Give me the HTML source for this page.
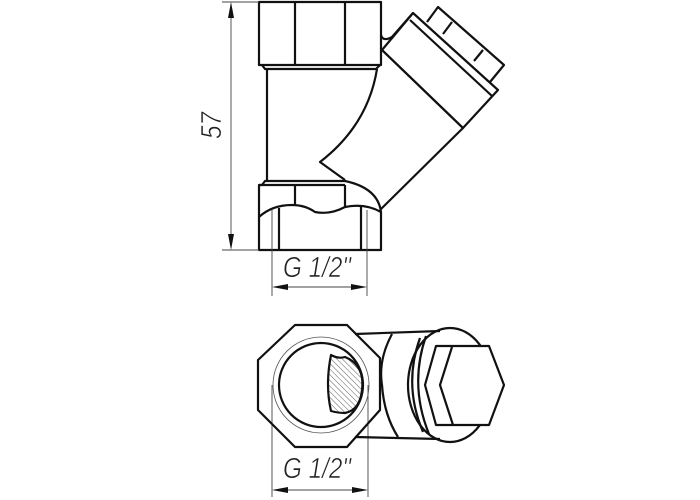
<!DOCTYPE html>
<html><head><style>html,body{margin:0;padding:0;background:#fff;}svg{display:block;}</style></head>
<body>
<svg width="700" height="500" viewBox="0 0 700 500" xmlns="http://www.w3.org/2000/svg">
<defs>
<pattern id="h" width="4" height="4" patternUnits="userSpaceOnUse" patternTransform="rotate(-45)">
<line x1="0" y1="0" x2="0" y2="4" stroke="#333" stroke-width="0.8"/>
</pattern>
</defs>
<g fill="none" stroke="#111" stroke-width="2.2" stroke-linejoin="round">
<rect x="259" y="2" width="122" height="63"/>
<line x1="295" y1="2" x2="295" y2="65"/>
<line x1="345" y1="2" x2="345" y2="65"/>
<path d="M262 65 L265 69 L376 69 L380 65"/>
<line x1="267" y1="69" x2="267" y2="180"/>
<path d="M377 69 Q368 125 320 162 L345 180"/>
<path d="M262 185 L265 181 L345 181 Q378 188 381 212 L381 250 L259 250 L259 185 Z"/>
<line x1="259" y1="185" x2="345" y2="185"/>
<line x1="295" y1="185" x2="295" y2="205"/>
<line x1="345" y1="185" x2="345" y2="207"/>
<path d="M259 217 Q272 205 292 205 Q305 205 315 212 Q330 215 345 207 Q365 203 381 212"/>
<line x1="279" y1="208" x2="279" y2="250"/>
<line x1="361" y1="206" x2="361" y2="250"/>
<path d="M381 35 Q383 42 392 37 L413 13"/>
<line x1="382" y1="50" x2="463" y2="128"/>
<line x1="463" y1="128" x2="380" y2="210"/>
<path d="M413 13 L498 90 L463 128 L382 50 Z"/>
<line x1="410" y1="20" x2="492" y2="96"/>
<path d="M427 22 L438 7 L504 65 L490 82"/>
<line x1="443" y1="34" x2="452" y2="22"/>
<line x1="474" y1="61" x2="483" y2="50"/>
</g>
<g stroke="#444" stroke-width="0.9" fill="none">
<line x1="222" y1="2" x2="259" y2="2"/>
<line x1="222" y1="250" x2="259" y2="250"/>
<line x1="231" y1="4" x2="231" y2="248"/>
<line x1="272" y1="210" x2="272" y2="296"/>
<line x1="367" y1="210" x2="367" y2="296"/>
<line x1="274" y1="287" x2="365" y2="287"/>
<line x1="272" y1="385" x2="272" y2="497"/>
<line x1="368" y1="385" x2="368" y2="497"/>
<line x1="274" y1="490" x2="366" y2="490"/>
</g>
<g fill="#111">
<path d="M231 2 L228 18 L234 18 Z"/>
<path d="M231 250 L228 234 L234 234 Z"/>
<path d="M272 287 L288 284 L288 290 Z"/>
<path d="M367 287 L351 284 L351 290 Z"/>
<path d="M272 490 L288 487 L288 493 Z"/>
<path d="M368 490 L352 487 L352 493 Z"/>
</g>
<g font-family="Liberation Sans, sans-serif" font-size="29" font-style="italic" fill="#222" stroke="#fff" stroke-width="0.6">
<text transform="translate(221,139) rotate(-90)" x="0" y="0" textLength="27" lengthAdjust="spacingAndGlyphs">57</text>
<text x="283" y="277" textLength="68" lengthAdjust="spacingAndGlyphs">G 1/2"</text>
<text x="283" y="478" textLength="68" lengthAdjust="spacingAndGlyphs">G 1/2"</text>
</g>
<g fill="none" stroke="#111" stroke-width="2.2" stroke-linejoin="round">
<line x1="355" y1="334" x2="440" y2="331"/>
<line x1="355" y1="437" x2="440" y2="439"/>
<path d="M392 334 Q378 360 382 385 Q384 415 398 437"/>
<ellipse cx="450" cy="385" rx="42" ry="57"/>
<path d="M420 338 Q403 385 423 432"/>
<path d="M426 336 Q409 385 429 434"/>
<path d="M436 346 L489 346 L504 385 L489 425 L436 425 L425 385 Z" fill="#fff"/>
<path d="M452 347 L440 385 L453 425"/>
<path d="M295 325 L347 325 L380 358 L380 410 L347 447 L295 447 L258 410 L258 360 Z"/>
<circle cx="321" cy="385" r="42"/>
<path d="M331 355 Q338 359 345 357 Q365 365 362 390 Q360 410 345 413 Q338 413 331 411 Q325 385 331 355 Z" fill="url(#h)"/>
</g>
<circle cx="321" cy="385" r="48" fill="none" stroke="#555" stroke-width="0.8"/>
</svg>
</body></html>
